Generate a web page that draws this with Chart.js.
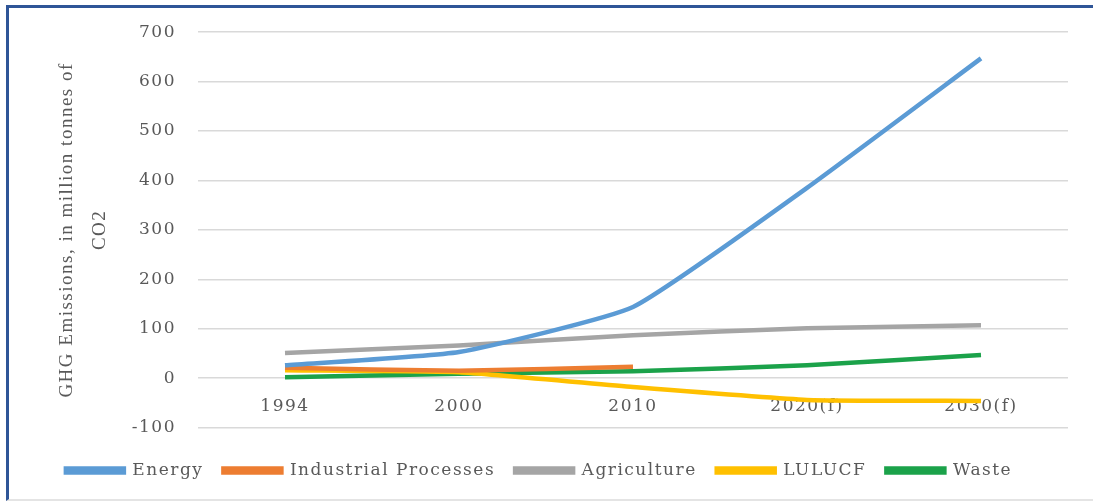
<!DOCTYPE html>
<html>
<head>
<meta charset="utf-8">
<script src="https://cdn.jsdelivr.net/npm/chart.js@4/dist/chart.umd.min.js"></script>
<style>
    html, body { margin: 0; padding: 0; background: #fff; }
    .frame {
        position: absolute; left: 6px; top: 5px; width: 1093px; height: 491px;
        border-left: 3px solid #2f5597; border-top: 3px solid #2f5597;
        border-bottom: 2px solid #e4e4e4;
    }
    .wrap { position: absolute; left: 0; top: 0; width: 1093px; height: 502px; }
</style>
</head>
<body>
<div class="frame"></div>
<div class="wrap"><canvas id="chart"></canvas></div>
<script>
const years = ["1994", "2000", "2010", "2020(f)", "2030(f)"];
const energy = [26, 53, 144, 385, 647];
const industrialProcesses = [21, 15, 23, null, null];
const agriculture = [51, 66, 87, 101, 107];
const lulucf = [16, 12, -18, -44, -46];
const waste = [2, 9, 14, 26, 47];
const yTicks = [-100, 0, 100, 200, 300, 400, 500, 600, 700];

const tickFont = { family: "'DejaVu Serif', serif", size: 17 };
const gray = "#595959";

function series(label, data, color) {
    return {
        label: label,
        data: data,
        borderColor: color,
        backgroundColor: color,
        borderWidth: 4.5,
        pointRadius: 0,
        tension: 0.15,
        fill: false
    };
}

// the canvas state is reset on resize, so set the spacing again before layout and draw
const spacing = {
    id: "spacing",
    beforeUpdate(chart) { chart.ctx.letterSpacing = "1.5px"; },
    beforeLayout(chart) { chart.ctx.letterSpacing = "1.5px"; },
    beforeDraw(chart) { chart.ctx.letterSpacing = "1.5px"; }
};

new Chart(document.getElementById("chart"), {
    type: "line",
    data: {
        labels: years,
        datasets: [
            series("Energy", energy, "#5b9bd5"),
            series("Industrial Processes", industrialProcesses, "#ed7d31"),
            series("Agriculture", agriculture, "#a5a5a5"),
            series("LULUCF", lulucf, "#ffc000"),
            series("Waste", waste, "#1ba24a")
        ]
    },
    options: {
        responsive: true,
        maintainAspectRatio: false,
        animation: false,
        layout: { padding: { left: 10, right: 25, top: 27, bottom: 13 } },
        plugins: {
            legend: {
                position: "bottom",
                // empty title only to leave room between the plot and the legend
                title: { display: true, text: " ", padding: 0, font: { size: 12 } },
                labels: {
                    boxWidth: 58,
                    boxHeight: 4,
                    padding: 20,
                    color: gray,
                    font: { family: "'DejaVu Serif', serif", size: 17 }
                }
            },
            tooltip: { enabled: false }
        },
        scales: {
            x: {
                position: { y: 0 },
                offset: true,
                grid: { display: false },
                border: { display: false },
                ticks: { color: gray, font: tickFont, padding: 10 }
            },
            y: {
                min: -100,
                max: 700,
                afterBuildTicks(scale) { scale.ticks = yTicks.map(v => ({ value: v })); },
                afterFit(scale) { scale.width = 188; },
                grid: { color: "#d9d9d9", lineWidth: 1.5, drawTicks: false },
                border: { display: false },
                ticks: { color: gray, font: tickFont, padding: 22 },
                title: {
                    display: true,
                    text: ["GHG Emissions, in million tonnes of", "CO2"],
                    color: gray,
                    font: { family: "'Liberation Serif', serif", size: 19, lineHeight: 1.75 },
                    padding: { top: 40, bottom: 0 }
                }
            }
        }
    },
    plugins: [spacing]
});
</script>
</body>
</html>
